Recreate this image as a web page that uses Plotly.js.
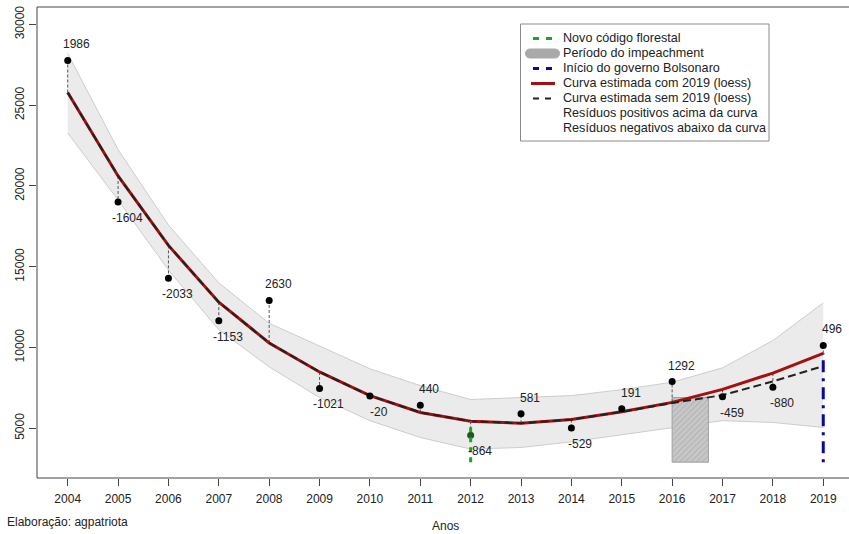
<!DOCTYPE html>
<html>
<head>
<meta charset="utf-8">
<script src="https://cdn.plot.ly/plotly-3.0.1.min.js"></script>
<style>html,body{margin:0;padding:0;background:#fff;}#chart{width:849px;height:534px;}</style>
</head>
<body>
<div id="chart"></div>
<script>
// ---- data ----
const years = [2004,2005,2006,2007,2008,2009,2010,2011,2012,2013,2014,2015,2016,2017,2018,2019];
const observed = [27772,19014,14286,11651,12911,7464,7000,6418,4571,5891,5012,6207,7893,6947,7536,10129];
const residuals = [1986,-1604,-2033,-1153,2630,-1021,-20,440,-864,581,-529,191,1292,-459,-880,496];
const fitWith2019 = [25786,20618,16319,12804,10281,8485,7020,5978,5435,5310,5541,6016,6601,7406,8416,9633];
const fitWithout2019 = [25786,20618,16319,12804,10281,8485,7020,5978,5435,5310,5541,6016,6560,7050,7900,8850];
const bandUpper = [28200,22250,17580,14000,11500,10100,8680,7640,6780,6900,7020,7390,7850,8740,10430,12760];
const bandLower = [23280,19130,14800,11100,8800,6900,5470,4430,3710,3810,4160,4600,5050,5470,5360,5050];
const forestCodeYear = 2012;
const bolsonaroYear = 2019;
const markerBottom = 2900;
const impeachmentX = [2016.0, 2016.72];
const impeachmentY = [2900, 6900];
const yTicks = [5000,10000,15000,20000,25000,30000];
const legendLabels = ["Novo código florestal","Período do impeachment","Início do governo Bolsonaro",
  "Curva estimada com 2019 (loess)","Curva estimada sem 2019 (loess)",
  "Resíduos positivos acima da curva","Resíduos negativos abaixo da curva"];

// ---- geometry helpers (pixel -> paper) ----
const L=37, R=849, T=7, B=478;
const px2x = p => (p-L)/(R-L);
const py2y = p => (B-p)/(B-T);
const FONT = "Liberation Sans, Arial, Helvetica, sans-serif";

const traces = [];
// band
traces.push({x:years, y:bandLower, type:'scatter', mode:'lines', line:{color:'#cdcdcd', width:1}, hoverinfo:'skip', showlegend:false});
traces.push({x:years, y:bandUpper, type:'scatter', mode:'lines', fill:'tonexty', fillcolor:'#ebebeb', line:{color:'#cdcdcd', width:1}, hoverinfo:'skip', showlegend:false});
// impeachment rectangle
traces.push({x:[impeachmentX[0],impeachmentX[1],impeachmentX[1],impeachmentX[0],impeachmentX[0]],
  y:[impeachmentY[0],impeachmentY[0],impeachmentY[1],impeachmentY[1],impeachmentY[0]],
  type:'scatter', mode:'lines', fill:'toself', fillcolor:'#c2c2c2',
  fillpattern:{shape:'/', bgcolor:'#c8c8c8', fgcolor:'#b4b4b4', size:4, solidity:0.3},
  line:{color:'#a0a0a0', width:1}, hoverinfo:'skip', showlegend:false});
// residual segments
const rx=[], ry=[];
years.forEach((yr,i)=>{ rx.push(yr,yr,null); ry.push(fitWith2019[i], observed[i], null); });
traces.push({x:rx, y:ry, type:'scatter', mode:'lines', line:{color:'#555', width:1, dash:'3px,2px'}, hoverinfo:'skip', showlegend:false});
// red curve
traces.push({x:years, y:fitWith2019, type:'scatter', mode:'lines', line:{color:'#a50f0f', width:3}, showlegend:false});
// dashed black curve
traces.push({x:years, y:fitWithout2019, type:'scatter', mode:'lines', line:{color:'#222', width:2, dash:'8px,4px'}, showlegend:false});
// points
traces.push({x:years, y:observed, type:'scatter', mode:'markers',
  marker:{size:7, color: years.map(y=> y===forestCodeYear ? '#1e5a1e' : '#000')}, showlegend:false});
// green line
const iF = years.indexOf(forestCodeYear);
traces.push({x:[forestCodeYear,forestCodeYear], y:[markerBottom, fitWith2019[iF]], type:'scatter', mode:'lines',
  line:{color:'#1fa31f', width:3, dash:'5px,5px'}, showlegend:false});
// blue line
const iB = years.indexOf(bolsonaroYear);
traces.push({x:[bolsonaroYear,bolsonaroYear], y:[markerBottom, fitWith2019[iB]], type:'scatter', mode:'lines',
  line:{color:'#0a0a99', width:3, dash:'3px,6px,12px,6px'}, showlegend:false});

// annotations: residual labels
const annotations = years.map((yr,i)=>({
  x:yr, y:observed[i], xref:'x', yref:'y', text:String(residuals[i]), showarrow:false,
  xanchor:'center', yanchor:'middle', xshift:9, yshift: residuals[i]>=0 ? 16 : -16,
  font:{family:FONT, size:12, color:'#222'}
}));
annotations.push({xref:'paper', yref:'paper', x:px2x(445), y:py2y(526), text:'Anos', showarrow:false,
  xanchor:'center', yanchor:'middle', font:{family:FONT, size:12, color:'#222'}});
annotations.push({xref:'paper', yref:'paper', x:px2x(5), y:py2y(522), text:'Elaboração: agpatriota', showarrow:false,
  xanchor:'left', yanchor:'middle', font:{family:FONT, size:12, color:'#222'}});

// legend
const rowY = [38.5, 53.5, 68.5, 83.5, 98.5, 113.5, 128];
legendLabels.forEach((t,i)=>{
  annotations.push({xref:'paper', yref:'paper', x:px2x(561), y:py2y(rowY[i]), text:t, showarrow:false,
    xanchor:'left', yanchor:'middle', font:{family:FONT, size:12.6, color:'#222'}});
});

const shapes = [
  {type:'line', xref:'paper', yref:'paper', x0:0, x1:0, y0:0, y1:1, line:{color:'#444', width:1}},
  {type:'line', xref:'paper', yref:'paper', x0:0, x1:1, y0:1, y1:1, line:{color:'#444', width:1}},
  {type:'line', xref:'paper', yref:'paper', x0:0, x1:1, y0:0, y1:0, line:{color:'#444', width:1}},
  {type:'rect', xref:'paper', yref:'paper', x0:px2x(520.5), x1:px2x(769), y0:py2y(24), y1:py2y(141),
    line:{color:'#8a8a8a', width:1}, fillcolor:'rgba(255,255,255,0)'},
  {type:'line', xref:'paper', yref:'paper', x0:px2x(533), x1:px2x(552), y0:py2y(rowY[0]), y1:py2y(rowY[0]),
    line:{color:'#1fa31f', width:3, dash:'6px,7px'}},
  {type:'path', xref:'paper', yref:'paper',
    path:`M ${px2x(530)},${py2y(49)} L ${px2x(555)},${py2y(49)} C ${px2x(561)},${py2y(49)} ${px2x(561)},${py2y(58)} ${px2x(555)},${py2y(58)} L ${px2x(530)},${py2y(58)} C ${px2x(524)},${py2y(58)} ${px2x(524)},${py2y(49)} ${px2x(530)},${py2y(49)} Z`,
    fillcolor:'#a9a9a9', line:{color:'#a9a9a9', width:1}},
  {type:'line', xref:'paper', yref:'paper', x0:px2x(533), x1:px2x(552), y0:py2y(rowY[2]), y1:py2y(rowY[2]),
    line:{color:'#0a0a99', width:3, dash:'6px,7px'}},
  {type:'line', xref:'paper', yref:'paper', x0:px2x(531), x1:px2x(555), y0:py2y(rowY[3]), y1:py2y(rowY[3]),
    line:{color:'#a50f0f', width:3}},
  {type:'line', xref:'paper', yref:'paper', x0:px2x(533), x1:px2x(552), y0:py2y(rowY[4]), y1:py2y(rowY[4]),
    line:{color:'#222', width:2, dash:'6px,6px'}}
];

const xStart = 2004 - (67.7-L)/50.37;
const xEnd = xStart + (R-L)/50.37;

const layout = {
  width:849, height:534,
  margin:{l:L, r:0, t:T, b:534-B, pad:0},
  paper_bgcolor:'#fff', plot_bgcolor:'#fff',
  showlegend:false,
  font:{family:FONT, size:12, color:'#222'},
  xaxis:{range:[xStart, xEnd], tickvals:years, ticktext:years.map(String), ticks:'outside', ticklen:7, tickcolor:'#444',
    ticklabelstandoff:3,
    showgrid:false, zeroline:false, showline:false, tickfont:{family:FONT, size:12, color:'#222'}},
  yaxis:{range:[1920,31080], tickvals:yTicks, ticktext:yTicks.map(String), ticks:'outside', ticklen:7, tickcolor:'#444',
    tickangle:-90, showgrid:false, zeroline:false, showline:false, tickfont:{family:FONT, size:12, color:'#222'}},
  shapes:shapes,
  annotations:annotations
};

Plotly.newPlot('chart', traces, layout, {staticPlot:true, displayModeBar:false});
</script>
</body>
</html>
